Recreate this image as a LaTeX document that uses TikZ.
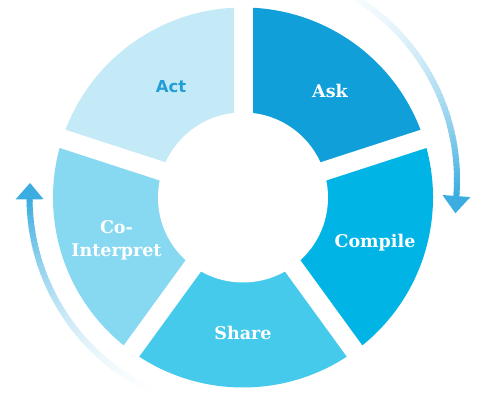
\documentclass[tikz,border=0pt]{standalone}
\usepackage{fontspec}
\newfontfamily\slabfont{DejaVu Serif}
\newfontfamily\actfont{DejaVu Sans}
\definecolor{askc}{HTML}{119FD9}
\definecolor{compc}{HTML}{00B5E6}
\definecolor{sharec}{HTML}{45CAEC}
\definecolor{coic}{HTML}{86D9F1}
\definecolor{actc}{HTML}{C5EAF7}
\definecolor{acttext}{HTML}{229FD8}
\definecolor{arrc}{HTML}{3BADE0}
\begin{document}
\begin{tikzpicture}[x=1pt,y=1pt,
  seglabel/.style={anchor=base,text=white,font=\slabfont\bfseries\fontsize{17.5}{17.5}\selectfont,inner sep=0pt},
  gapline/.style={white,line width=19pt}]
\useasboundingbox (0,0) rectangle (479,398);
\fill[white] (0,0) rectangle (479,398);
% ring
\begin{scope}[shift={(243,200.5)}]
  \fill[askc]   (0,0) -- (90:190)   arc[start angle=90,  end angle=18,   radius=190] -- cycle;
  \fill[compc]  (0,0) -- (18:190)   arc[start angle=18,  end angle=-54,  radius=190] -- cycle;
  \fill[sharec] (0,0) -- (-54:190)  arc[start angle=-54, end angle=-126, radius=190] -- cycle;
  \fill[coic]   (0,0) -- (-126:190) arc[start angle=-126,end angle=-198, radius=190] -- cycle;
  \fill[actc]   (0,0) -- (162:190)  arc[start angle=162, end angle=90,   radius=190] -- cycle;
  \foreach \a in {90,18,-54,-126,162} \draw[gapline] (0,0) -- (\a:196);
  \fill[white] (0,0) circle[radius=85];
  % left arrow (centre same as ring)
  \foreach \i in {0,...,59}{
    \pgfmathsetmacro{\aa}{250-70*\i/60}
    \pgfmathsetmacro{\ab}{250-70*(\i+1.3)/60}
    \pgfmathsetmacro{\p}{100*((\i+1)/60)^2}
    \draw[arrc!\p!white,line width=6pt] (\aa:213.5) arc[start angle=\aa,end angle=\ab,radius=213.5];
  }
  \fill[arrc] (180.5:199.5) -- (180.5:227.5) -- (176.1:213.5) -- cycle;
\end{scope}
% right arrow (centre slightly higher)
\begin{scope}[shift={(243,218)}]
  \foreach \i in {0,...,59}{
    \pgfmathsetmacro{\aa}{72-76.6*\i/60}
    \pgfmathsetmacro{\ab}{72-76.6*(\i+1.3)/60}
    \pgfmathsetmacro{\p}{100*((\i+1)/60)^2}
    \draw[arrc!\p!white,line width=6pt] (\aa:214) arc[start angle=\aa,end angle=\ab,radius=214];
  }
  \fill[arrc] (-4.3:200) -- (-4.3:228) -- (-8.9:215) -- cycle;
\end{scope}
% labels
\node[seglabel] (ask) at (330,300.5) {Ask};
\node[seglabel] (compile) at (375,150.5) {Compile};
\node[seglabel] (share) at (243,58.5) {Share};
\node[seglabel] (coi1) at (116.5,164.5) {Co-};
\node[seglabel] (coi2) at (116.5,141.5) {Interpret};
\node[anchor=base,text=acttext,font=\actfont\bfseries\fontsize{16.5}{16.5}\selectfont,inner sep=0pt] (act) at (171,305) {Act};
\end{tikzpicture}
\end{document}
